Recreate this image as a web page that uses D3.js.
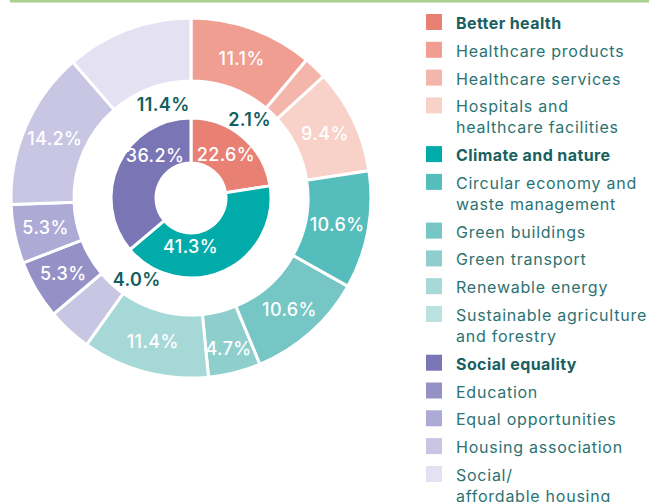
<!DOCTYPE html>
<html><head><meta charset="utf-8">
<script src="https://cdn.jsdelivr.net/npm/d3@7/dist/d3.min.js"></script>
<style>body{margin:0;background:#fff;} text{font-family:Inter,"Noto Sans",sans-serif;}</style>
</head><body>
<svg id="c" width="649" height="502"></svg>
<script>
// ---- data ----
const groups = ["Better health", "Climate and nature", "Social equality"];
const groupValues = [22.6, 41.3, 36.2];
const groupColors = ["#e88174", "#00aba9", "#7a76b6"];

const subcategories = ["Healthcare products", "Healthcare services", "Hospitals and\nhealthcare facilities",
  "Circular economy and\nwaste management", "Green buildings", "Green transport", "Renewable energy",
  "Sustainable agriculture\nand forestry", "Education", "Equal opportunities", "Housing association",
  "Social/\naffordable housing"];
const subGroup = [0,0,0,1,1,1,1,1,2,2,2,2];
const subValues = [11.1, 2.1, 9.4, 10.6, 10.6, 4.7, 11.4, 4.0, 5.3, 5.3, 14.2, 11.4];
const subColors = ["#ef9e91", "#f4b6ab", "#f8d1c9", "#55bdbc", "#75c6c4", "#8ecfcd", "#a6d8d8",
  "#b9e2e0", "#9591c6", "#aeaad6", "#c9c6e3", "#e4e1f2"];
// segment fill as drawn in the original (agriculture slice appears lavender)
const subFills = ["#ef9e91", "#f4b6ab", "#f8d1c9", "#55bdbc", "#75c6c4", "#8ecfcd", "#a6d8d8",
  "#c9c6e3", "#9591c6", "#aeaad6", "#c9c6e3", "#e4e1f2"];
// labels drawn in the white gap instead of on the slice, with angular shift (deg)
const gapLabels = {1: -7, 7: -9, 11: 4};
const innerLabelShift = [-2, 25, 25];

// ---- layout ----
const svg = d3.select("#c");
const cx = 191, cy = 198;
const R0 = 117, R1 = 180, r0 = 35, r1 = 80;
const fmt = v => v.toFixed(1) + "%";

svg.append("rect").attr("x", 10).attr("y", 0).attr("width", 639).attr("height", 2.5).attr("fill", "#a9d18e");

const g = svg.append("g").attr("transform", `translate(${cx},${cy})`);
const pie = d3.pie().sort(null).value(d => d);
const outerArcs = pie(subValues);
const innerArcs = pie(groupValues);
const arcOuter = d3.arc().innerRadius(R0).outerRadius(R1);
const arcInner = d3.arc().innerRadius(r0).outerRadius(r1);

g.selectAll("path.o").data(outerArcs).join("path").attr("class","o")
  .attr("d", arcOuter).attr("fill", (d,i) => subFills[i])
  .attr("stroke", "#fff").attr("stroke-width", 3).attr("stroke-linejoin","miter");
g.selectAll("path.i").data(innerArcs).join("path").attr("class","i")
  .attr("d", arcInner).attr("fill", (d,i) => groupColors[i])
  .attr("stroke", "#fff").attr("stroke-width", 3);

function polar(a, r){ return [r*Math.sin(a), -r*Math.cos(a)]; }

outerArcs.forEach((d,i) => {
  const mid = (d.startAngle + d.endAngle)/2;
  let p, color;
  const gap = (i in gapLabels);
  if (gap) {
    p = polar(mid + gapLabels[i]*Math.PI/180, 98);
    color = "#135e5e";
  } else {
    p = polar(mid, i === 5 ? 155 : 148.5);
    color = "#fff";
  }
  g.append("text").attr("x", p[0]).attr("y", p[1])
    .attr("text-anchor","middle").attr("dominant-baseline","central")
    .attr("font-size", 18).attr("font-weight", gap ? 600 : 500)
    .attr("letter-spacing", 0.4)
    .attr("fill", color).text(fmt(d.data));
});
innerArcs.forEach((d,i) => {
  const mid = (d.startAngle + d.endAngle)/2 + innerLabelShift[i]*Math.PI/180;
  const p = polar(mid, i === 1 ? 49 : 56);
  g.append("text").attr("x", p[0]).attr("y", p[1])
    .attr("text-anchor","middle").attr("dominant-baseline","central")
    .attr("font-size", 18).attr("font-weight", 500).attr("letter-spacing", 0.4)
    .attr("fill", "#fff").text(fmt(d.data));
});

// ---- legend ----
const legendItems = [];
groups.forEach((grp, gi) => {
  legendItems.push({label: grp, color: groupColors[gi], bold: true});
  subcategories.forEach((s, si) => { if (subGroup[si] === gi) legendItems.push({label: s, color: subColors[si], bold: false}); });
});
const leg = svg.append("g");
let y = 14;
const rowH = 27.8, lineH = 20.9;
legendItems.forEach(it => {
  leg.append("rect").attr("x", 426).attr("y", y).attr("width", 16).attr("height", 16).attr("fill", it.color);
  const lines = it.label.split("\n");
  const t = leg.append("text").attr("x", 456).attr("y", y + 9)
    .attr("font-size", 16).attr("font-weight", it.bold ? 700 : 400)
    .attr("fill", it.bold ? "#1a5f5f" : "#2b7373").attr("dominant-baseline","central")
    .attr("letter-spacing", it.bold ? 0.4 : 0.75);
  lines.forEach((ln, k) => {
    t.append("tspan").attr("x", 456).attr("dy", k === 0 ? 0 : lineH).text(ln);
  });
  y += rowH + (lines.length - 1) * lineH;
});
</script>
</body></html>
